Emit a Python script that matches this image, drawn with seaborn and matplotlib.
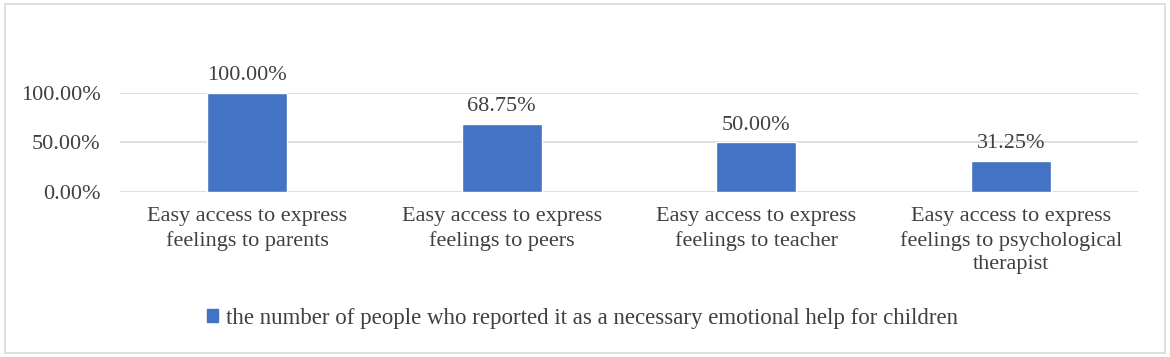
import pandas as pd
import seaborn as sns
import matplotlib.pyplot as plt
from matplotlib.patches import Rectangle, Patch

categories = [
    "Easy access to express\nfeelings to parents",
    "Easy access to express\nfeelings to peers",
    "Easy access to express\nfeelings to teacher",
    "Easy access to express\nfeelings to psychological\ntherapist",
]
values = [100.00, 68.75, 50.00, 31.25]
series_name = "the number of people who reported it as a necessary emotional help for children"
yticks = [0, 50, 100]

df = pd.DataFrame({"category": categories, "value": values})

sns.set_style("white")
plt.rcParams["font.family"] = ["Liberation Serif", "DejaVu Serif"]
text_color = "#404040"
bar_color = "#4472C4"

fig = plt.figure(figsize=(11.7, 3.57), dpi=100)
ax = fig.add_axes([0.1026, 0.4622, 0.870, 0.2773])

sns.barplot(data=df, x="category", y="value", color=bar_color, width=0.314,
            saturation=1, ax=ax, zorder=3)

for p, v in zip(ax.patches, values):
    ax.text(p.get_x() + p.get_width() / 2, v + 8, f"{v:.2f}%", ha="center",
            va="bottom", fontsize=16, color=text_color, clip_on=False)

ax.set_ylim(0, 100)
ax.set_xlim(-0.5, 3.5)
ax.set_yticks(yticks)
ax.set_yticklabels([f"{t:.2f}%" for t in yticks])
ax.grid(axis="y", color="#D9D9D9", linewidth=1.2, zorder=0)
for s in ax.spines.values():
    s.set_visible(False)
ax.tick_params(axis="both", length=0, labelsize=16, colors=text_color)
ax.tick_params(axis="x", pad=11)
ax.tick_params(axis="y", pad=14)
ax.set_xlabel("")
ax.set_ylabel("")
for lab in ax.get_xticklabels():
    lab.set_linespacing(1.3)
    lab.set_va("top")

handle = Patch(facecolor=bar_color, edgecolor=bar_color)
fig.legend([handle], [series_name], loc="center", bbox_to_anchor=(0.498, 0.108),
           frameon=False, fontsize=16.5, labelcolor=text_color,
           handlelength=0.5, handleheight=0.5, handletextpad=0.35)

fig.patches.append(Rectangle((0.004, 0.012), 0.992, 0.978, transform=fig.transFigure,
                             fill=False, edgecolor="#D9D9D9", linewidth=1.2))

plt.savefig("out.png", dpi=100)
